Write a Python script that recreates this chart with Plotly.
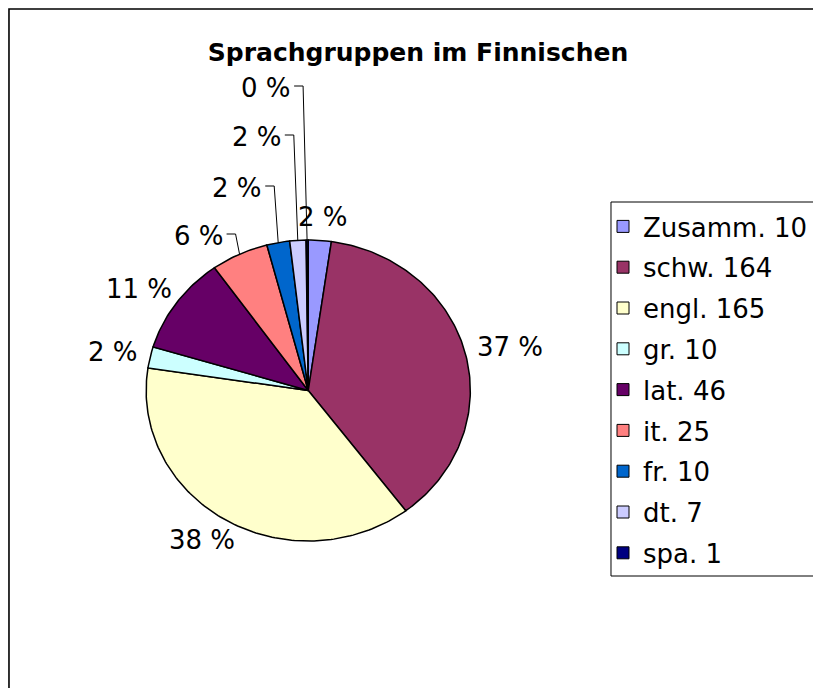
import numpy as np
import plotly.graph_objects as go

# ---------------- data ----------------
categories = ["Zusamm.", "schw.", "engl.", "gr.", "lat.", "it.", "fr.", "dt.", "spa."]
values = [10, 164, 165, 10, 46, 25, 10, 7, 1]
colors = ["#9999FF", "#993366", "#FFFFCC", "#CCFFFF", "#660066",
          "#FF8080", "#0066CC", "#CCCCFF", "#000080"]
title_text = "Sprachgruppen im Finnischen"

# ---------------- layout / style ----------------
W, H = 813, 688
CX, CY, RX, RY = 309.0, 390.5, 162.5, 150.5   # pie centre and radii in pixels
FONT = "DejaVu Sans"
LABEL_SIZE = 26
LEGEND_SIZE = 26
LEGEND_BOX = dict(left=612.5, top=202, bottom=576)
# labels that were dragged away from the pie (label centre height in px)
dragged_label_y = {"it.": 236, "fr.": 188, "dt.": 137, "spa.": 88}


def ax(px):
    return (px - CX) / RX


def ay(py):
    return (CY - py) / RY


def text_width(s, size):
    w = {"%": 0.95, " ": 0.318}
    return sum(w.get(ch, 0.636) for ch in s) * size


total = sum(values)
fracs = [v / total for v in values]
cum = np.concatenate([[0], np.cumsum(fracs)])

fig = go.Figure()

# slices (ellipse through the axis scaling)
for i, (cat, val) in enumerate(zip(categories, values)):
    a0, a1 = cum[i] * 2 * np.pi, cum[i + 1] * 2 * np.pi
    n = max(4, int(np.ceil((a1 - a0) / (2 * np.pi) * 360)))
    t = np.linspace(a0, a1, n + 1)
    xs = np.concatenate([[0], np.sin(t), [0]])
    ys = np.concatenate([[0], np.cos(t), [0]])
    fig.add_trace(go.Scatter(
        x=xs, y=ys, mode="lines", fill="toself", fillcolor=colors[i],
        line=dict(color="black", width=1.5), showlegend=False, hoverinfo="skip"))

# legend entries
for i, (cat, val) in enumerate(zip(categories, values)):
    fig.add_trace(go.Scatter(
        x=[None], y=[None], mode="markers", name=f"{cat} {val}",
        legendgroup=str(i),
        marker=dict(symbol="square", size=12, color=colors[i],
                    line=dict(color="black", width=1))))

# percentage labels
annotations = []
lead_x, lead_y = [], []
for i, (cat, val) in enumerate(zip(categories, values)):
    pct = f"{round(fracs[i] * 100)} %"
    mid = (cum[i] + cum[i + 1]) * np.pi
    s, c = np.sin(mid), np.cos(mid)
    w = text_width(pct, LABEL_SIZE)
    h = LABEL_SIZE * 0.9
    if cat in dragged_label_y:
        rim_px = CX + RX * s
        ly = dragged_label_y[cat]
        right = rim_px - 14
        annotations.append(dict(x=ax(right), y=ay(ly), text=pct, xanchor="right",
                                yanchor="middle", showarrow=False,
                                font=dict(family=FONT, size=LABEL_SIZE, color="black")))
        lead_x += [ax(right + 1), ax(rim_px - 4), s, None]
        lead_y += [ay(ly - 2), ay(ly - 2), c, None]
    else:
        r = 1.08
        px = CX + RX * r * s + s * w / 2
        py = CY - RY * r * c - c * h / 2
        annotations.append(dict(x=ax(px), y=ay(py), text=pct, xanchor="center",
                                yanchor="middle", showarrow=False,
                                font=dict(family=FONT, size=LABEL_SIZE, color="black")))

fig.add_trace(go.Scatter(x=lead_x, y=lead_y, mode="lines",
                         line=dict(color="black", width=1),
                         showlegend=False, hoverinfo="skip"))

fig.update_layout(
    width=W, height=H, autosize=False,
    margin=dict(l=0, r=0, t=0, b=0),
    paper_bgcolor="white", plot_bgcolor="white",
    title=dict(text=f"<b>{title_text}</b>", x=418 / W, xanchor="center",
               y=1 - 52 / H, yanchor="middle",
               font=dict(family=FONT, size=25, color="black")),
    xaxis=dict(range=[ax(0), ax(W)], visible=False, fixedrange=True),
    yaxis=dict(range=[ay(H), ay(0)], visible=False, fixedrange=True),
    legend=dict(x=(LEGEND_BOX["left"] - 8) / W, y=1 - (LEGEND_BOX["top"] + 1) / H,
                xanchor="left", yanchor="top",
                borderwidth=0, bgcolor="rgba(0,0,0,0)",
                font=dict(family=FONT, size=LEGEND_SIZE, color="black"),
                traceorder="grouped", tracegroupgap=4),
    annotations=annotations,
    shapes=[
        dict(type="rect", xref="paper", yref="paper",
             x0=9 / W, x1=1.05, y0=-0.05, y1=1 - 9 / H,
             line=dict(color="black", width=1.6), fillcolor="rgba(0,0,0,0)",
             layer="below"),
        dict(type="rect", xref="paper", yref="paper",
             x0=LEGEND_BOX["left"] / W, x1=1.05,
             y0=1 - LEGEND_BOX["bottom"] / H, y1=1 - LEGEND_BOX["top"] / H,
             line=dict(color="black", width=1), fillcolor="white",
             layer="below"),
    ],
    showlegend=True,
)

fig.write_html("out.html", config={"displayModeBar": False},
               post_script="document.body.style.margin='0';")
